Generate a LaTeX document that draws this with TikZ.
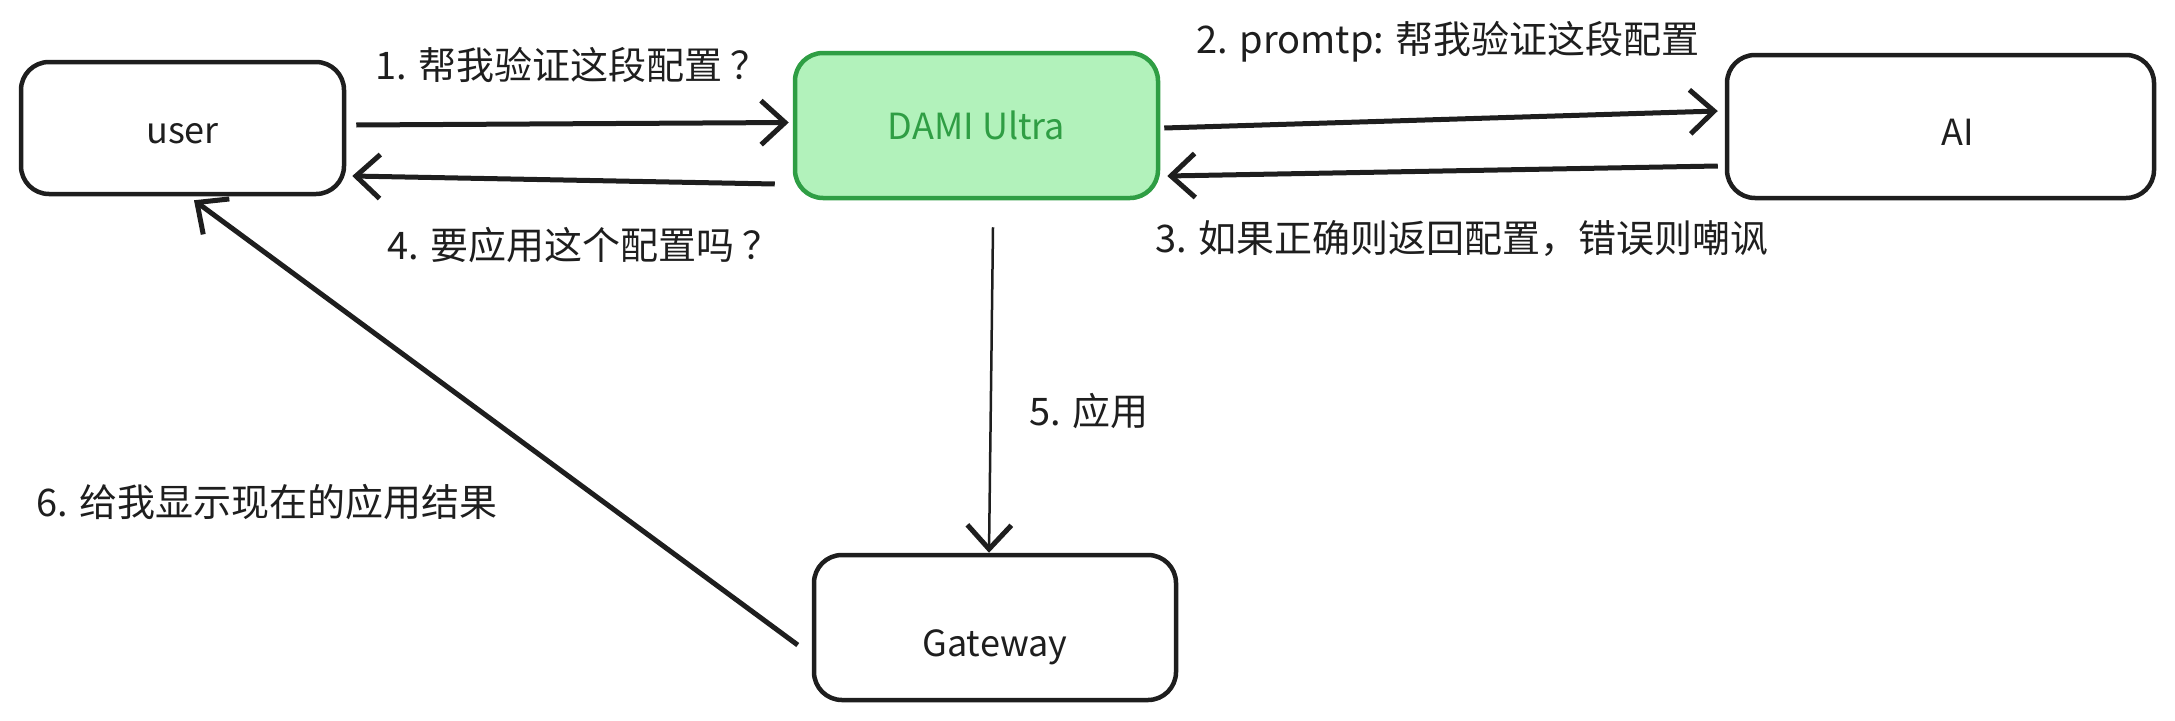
\documentclass[tikz,border=0pt]{standalone}
\usepackage{fontspec}
\setmainfont{Noto Sans CJK SC}
\usetikzlibrary{arrows.meta,calc}
\definecolor{ink}{HTML}{1E1E1E}
\definecolor{mint}{HTML}{B2F2BB}
\definecolor{leaf}{HTML}{2F9E44}
\newcommand{\drop}[2]{\raisebox{-#1}[\height][\depth]{#2}}

\begin{document}
\begin{tikzpicture}[x=1pt,y=-1pt,
    box/.style={draw=ink,line width=4.5pt,rounded corners=28pt,minimum width=#1,minimum height=140pt,inner sep=0pt,text=ink,font=\fontsize{36}{42}\selectfont},
    box/.default=340pt,
    lbl/.style={inner sep=0pt,text=ink,font=\fontsize{38}{44}\selectfont},
    link/.style={draw=ink,line width=5pt,-{Straight Barb[length=24pt,width=44pt,line width=5pt]}}]
    \useasboundingbox (0,0) rectangle (2175,720);
    % boxes
    \node[box=323pt,minimum height=132pt] (user) at (182.5,128) {\drop{6pt}{user}};
    \node[box=363pt,minimum height=145pt,draw=leaf,fill=mint,text=leaf] (dami) at (976.5,125.5) {DAMI Ultra};
    \node[box=427pt,minimum height=143pt] (ai) at (1940.5,126.5) {\hspace*{34pt}\drop{6pt}{AI}};
    \node[box=362pt,minimum height=145pt] (gw) at (995,627.5) {\drop{20pt}{Gateway}};
    % labels
    \node[lbl] (l1) at (572,65) {1. 帮我验证这段配置 ？};
    \node[lbl] (l2) at (1448,42) {2. promtp: 帮我验证这段配置};
    \node[lbl] (l3) at (1462,239) {3. 如果正确则返回配置，错误则嘲讽};
    \node[lbl] (l4) at (584,245) {4. 要应用这个配置吗 ？};
    \node[lbl] (l5) at (1089,411) {5. 应用};
    \node[lbl] (l6) at (267,502) {6. 给我显示现在的应用结果};
    % arrows
    \draw[link] ([shift={(10,-3)}]user.east) -- ([shift={(-4,-3)}]dami.west);
    \draw[link] ([shift={(4,2.5)}]dami.east) -- ([shift={(-7,-15.5)}]ai.west);
    \draw[link] ([shift={(-7,39.5)}]ai.west) -- ([shift={(7,50.5)}]dami.east);
    \draw[link] ([shift={(-18,58.5)}]dami.west) -- ([shift={(6,48)}]user.east);
    \draw[link,line width=2.5pt] ([shift={(16.5,27)}]dami.south) -- ([shift={(-6,0)}]gw.north);
    \draw[link] ([shift={(-14,17.5)}]gw.west) -- ([shift={(11.5,4)}]user.south);
\end{tikzpicture}
\end{document}
